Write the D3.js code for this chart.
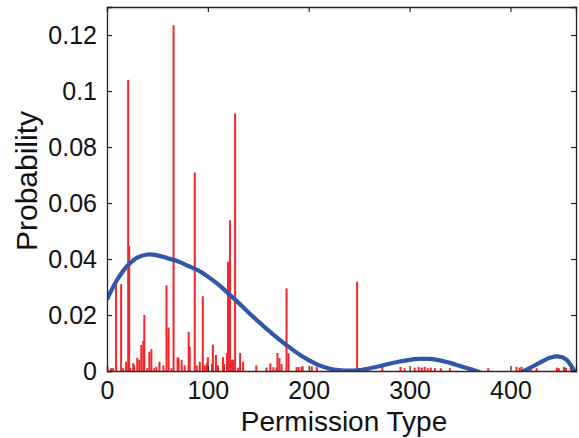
<!DOCTYPE html>
<html><head><meta charset="utf-8">
<script src="https://cdn.jsdelivr.net/npm/d3@7"></script>
<style>body{margin:0;background:#fff}svg{display:block}text{font-family:"Liberation Sans",Arial,sans-serif;fill:#111}</style>
</head><body><svg id="c" width="579" height="438"></svg>
<script>
const permIndex = [4,6,9,14,16,19,21,22,23,26,27,30,32,34,36,37,40,42,44,47,49,52,56,59,61,64,66,70,71,74,77,81,82,87,89,92,95,97,99,100,104,105,108,110,115,116,119,120,122,124,125,127,130,132,135,148,158,162,165,168,169,171,173,178,180,188,190,193,194,203,208,248,273,291,295,305,309,312,315,318,321,325,331,340,378,406,409,411,420,426,446,448,453,455,460];
const probValues = [0.001,0.001,0.031,0.031,0.001,0.0033,0.104,0.0446,0.001,0.0028,0.002,0.0047,0.004,0.0093,0.0108,0.020,0.001,0.0069,0.0078,0.001,0.0015,0.0033,0.002,0.0306,0.0155,0.001,0.1235,0.0049,0.0045,0.004,0.002,0.014,0.0087,0.0709,0.002,0.0033,0.0267,0.002,0.0028,0.0049,0.0025,0.0094,0.0057,0.002,0.0049,0.0025,0.0064,0.039,0.0538,0.004,0.004,0.092,0.0012,0.0064,0.0033,0.002,0.0012,0.0027,0.0014,0.0012,0.0064,0.0046,0.0025,0.0295,0.0063,0.0014,0.0014,0.0015,0.0017,0.0017,0.0015,0.0319,0.0017,0.0015,0.001,0.0012,0.0015,0.0012,0.0015,0.001,0.0012,0.001,0.001,0.001,0.001,0.0015,0.0012,0.0015,0.001,0.001,0.0012,0.001,0.0015,0.0012,0.0015];
const fitX = [0,10,20,30,40,50,60,70,80,90,100,110,120,130,140,150,160,170,180,190,200,210,220,230,240,250,260,270,280,290,300,310,320,330,340,350,360,370,380,390,400,410,420,430,440,447,455,462,466];
const fitY = [0.0256,0.0325,0.0375,0.0405,0.0416,0.0413,0.0403,0.0392,0.0376,0.0360,0.0337,0.0310,0.0278,0.0245,0.0210,0.0177,0.0145,0.0115,0.0087,0.0061,0.0039,0.0021,0.0009,0.0003,0.0001,0.0003,0.0009,0.0017,0.0026,0.0034,0.0040,0.0043,0.0043,0.0038,0.0029,0.0018,0.0007,-0.0005,-0.0015,-0.0019,-0.0015,-0.0005,0.0012,0.0032,0.0048,0.0052,0.0042,0.0008,-0.002];
const xTicks = [0,100,200,300,400];
const yTicks = [0,0.02,0.04,0.06,0.08,0.1,0.12];

const L=107,R=576,T=7,B=371;
const svg=d3.select("#c");
const x=d3.scaleLinear().domain([0,465]).range([L,R]);
const y=d3.scaleLinear().domain([0,0.13]).range([B,T]);

svg.append("defs").append("clipPath").attr("id","clip").append("rect")
  .attr("x",L).attr("y",T).attr("width",R-L).attr("height",B-T);

const g=svg.append("g").attr("clip-path","url(#clip)");
g.selectAll("rect.bar").data(permIndex.map((p,i)=>({p,v:probValues[i]}))).enter()
  .append("rect").attr("class","bar")
  .attr("x",d=>x(d.p)-1).attr("width",2)
  .attr("y",d=>y(d.v)).attr("height",d=>B-y(d.v))
  .attr("fill","#f5262b");

g.append("path").datum(fitX.map((v,i)=>[v,fitY[i]]))
  .attr("d",d3.line().x(d=>x(d[0])).y(d=>y(d[1])).curve(d3.curveCatmullRom))
  .attr("fill","none").attr("stroke","#2f57aa").attr("stroke-width",4.2);

const fmt=d=>String(+d.toFixed(2));
const axB=svg.append("g").attr("transform",`translate(0,${B})`)
  .call(d3.axisBottom(x).tickValues(xTicks).tickSize(-5).tickPadding(10).tickFormat(d3.format("d")));
const axT=svg.append("g").attr("transform",`translate(0,${T})`)
  .call(d3.axisTop(x).tickValues(xTicks).tickSize(-5).tickFormat(""));
const axL=svg.append("g").attr("transform",`translate(${L},0)`)
  .call(d3.axisLeft(y).tickValues(yTicks).tickSize(-5).tickPadding(10).tickFormat(fmt));
const axR=svg.append("g").attr("transform",`translate(${R},0)`)
  .call(d3.axisRight(y).tickValues(yTicks).tickSize(-5).tickFormat(""));
[axB,axT,axL,axR].forEach(a=>{
  a.select(".domain").attr("stroke","#222").attr("stroke-width",1.3);
  a.selectAll(".tick line").attr("stroke","#222").attr("stroke-width",1.2);
  a.selectAll("text").attr("font-size",25).attr("fill","#111").attr("font-family","Liberation Sans, Arial, sans-serif");
});
axB.select(".domain").attr("stroke","#4a1e1e");

svg.append("text").attr("x",344).attr("y",431).attr("text-anchor","middle")
  .attr("font-size",28).text("Permission Type");
svg.append("text").attr("transform",`translate(37,181)rotate(-90)`).attr("text-anchor","middle")
  .attr("font-size",30).text("Probability");
</script></body></html>
